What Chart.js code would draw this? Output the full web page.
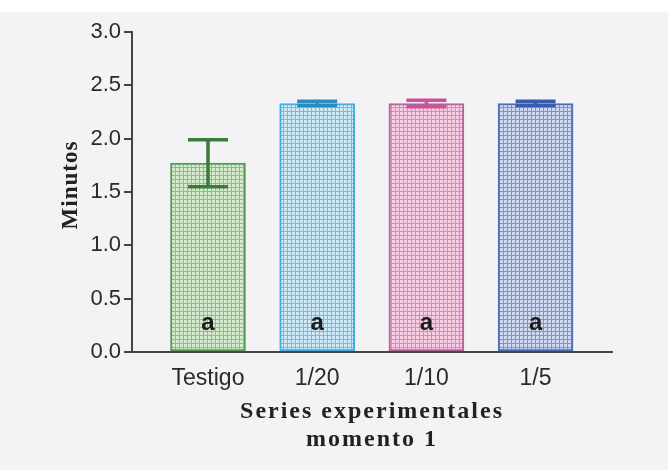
<!DOCTYPE html>
<html>
<head>
<meta charset="utf-8">
<script src="https://cdn.jsdelivr.net/npm/chart.js@4/dist/chart.umd.min.js"></script>
<style>
  html, body { margin: 0; padding: 0; background: #f3f3f6; }
  #wrap { width: 668px; height: 470px; }
</style>
</head>
<body>
<div id="wrap"><canvas id="c" width="668" height="470"></canvas></div>
<script>
// Tiempo medio (minutos) por serie experimental, momento 1
const categories = ['Testigo', '1/20', '1/10', '1/5'];
const means = [1.77, 2.33, 2.33, 2.33];
const errors = [0.22, 0.02, 0.03, 0.02];
const groupLetters = ['a', 'a', 'a', 'a'];
const yTicks = [0, 0.5, 1.0, 1.5, 2.0, 2.5, 3.0];

// colour per bar: cell background, grid lines, outline, error bar
const cellColors = ['#d4ebcd', '#cbe9f6', '#f8cde4', '#cdd8f2'];
const lineColors = ['#84c27f', '#6cc0e6', '#e284be', '#7a93d4'];
const edgeColors = ['#5a9c58', '#46ade0', '#b5649a', '#4f6fb8'];
const errColors = ['#3c7b3a', '#2a8cc0', '#cf4f98', '#3a5cb0'];

function gridPattern(bg, line) {
  const t = document.createElement('canvas');
  t.width = 4; t.height = 4;
  const g = t.getContext('2d');
  g.fillStyle = bg; g.fillRect(0, 0, 4, 4);
  g.fillStyle = line;
  g.fillRect(3, 0, 1, 4);
  g.fillRect(0, 3, 4, 1);
  return g.createPattern(t, 'repeat');
}
const ctx = document.getElementById('c').getContext('2d');
const fills = cellColors.map((c, i) => gridPattern(c, lineColors[i]));

const background = {
  id: 'background',
  beforeDraw(chart) {
    const g = chart.ctx;
    g.save();
    g.fillStyle = '#f3f3f6';
    g.fillRect(0, 0, chart.width, chart.height);
    g.fillStyle = '#ffffff';
    g.fillRect(0, 0, chart.width, 12);
    g.restore();
  }
};

const errorBars = {
  id: 'errorBars',
  afterDatasetsDraw(chart) {
    const g = chart.ctx, xs = chart.scales.x, ys = chart.scales.y;
    g.save();
    means.forEach((m, i) => {
      const x = xs.getPixelForValue(i);
      const top = ys.getPixelForValue(m + errors[i]);
      const bot = ys.getPixelForValue(m - errors[i]);
      g.strokeStyle = errColors[i];
      g.lineWidth = 3.5;
      g.beginPath();
      g.moveTo(x, top); g.lineTo(x, bot);
      g.moveTo(x - 20, top); g.lineTo(x + 20, top);
      g.moveTo(x - 20, bot); g.lineTo(x + 20, bot);
      g.stroke();
      // group letter near the base of the bar
      g.fillStyle = '#1c1c1c';
      g.font = 'bold 24px "Liberation Sans", Arial, sans-serif';
      g.textAlign = 'center';
      g.textBaseline = 'middle';
      g.fillText(groupLetters[i], x, ys.bottom - 29);
    });
    g.restore();
  }
};

const axisTitles = {
  id: 'axisTitles',
  afterDraw(chart) {
    const g = chart.ctx, a = chart.chartArea;
    const cx = (a.left + a.right) / 2;
    g.save();
    g.fillStyle = '#222';
    g.textAlign = 'center';
    g.textBaseline = 'alphabetic';
    g.font = 'bold 24px "Liberation Serif", "Times New Roman", serif';
    g.letterSpacing = '2px';
    g.fillText('Series experimentales', cx, 418);
    g.fillText('momento 1', cx, 446);
    g.font = 'bold 23px "Liberation Serif", "Times New Roman", serif';
    g.letterSpacing = '1px';
    g.translate(77, 185);
    g.rotate(-Math.PI / 2);
    g.fillText('Minutos', 0, 0);
    g.restore();
  }
};

new Chart(ctx, {
  type: 'bar',
  data: {
    datasets: [{
      data: categories.map((c, i) => ({ x: i, y: means[i] })),
      backgroundColor: fills,
      borderColor: edgeColors,
      borderWidth: 2,
      borderSkipped: false,
      barThickness: 75
    }]
  },
  options: {
    responsive: false,
    animation: false,
    events: [],
    layout: { padding: { top: 32, right: 56, left: 0, bottom: 0 } },
    plugins: { legend: { display: false }, tooltip: { enabled: false } },
    scales: {
      x: {
        type: 'linear',
        offset: false,
        min: -0.696,
        max: 3.70,
        afterFit(s) { s.height = 118; },
        afterBuildTicks(s) { s.ticks = categories.map((c, i) => ({ value: i })); },
        grid: { display: false, offset: false },
        border: { display: true, color: '#444', width: 2 },
        ticks: {
          callback: v => categories[v] ?? '',
          color: '#2a2a2a',
          padding: 5,
          maxRotation: 0,
          autoSkip: false,
          font: { family: '"Liberation Sans", Arial, sans-serif', size: 23 }
        }
      },
      y: {
        min: 0,
        max: 3,
        afterFit(s) { s.width = 132; },
        afterBuildTicks(s) { s.ticks = yTicks.map(v => ({ value: v })); },
        grid: { drawOnChartArea: false, drawTicks: true, tickLength: 8, color: '#444', lineWidth: 2 },
        border: { display: true, color: '#444', width: 2 },
        ticks: {
          callback: v => v.toFixed(1),
          color: '#2a2a2a',
          padding: 3,
          font: { family: '"Liberation Sans", Arial, sans-serif', size: 22 }
        }
      }
    }
  },
  plugins: [background, errorBars, axisTitles]
});
</script>
</body>
</html>
